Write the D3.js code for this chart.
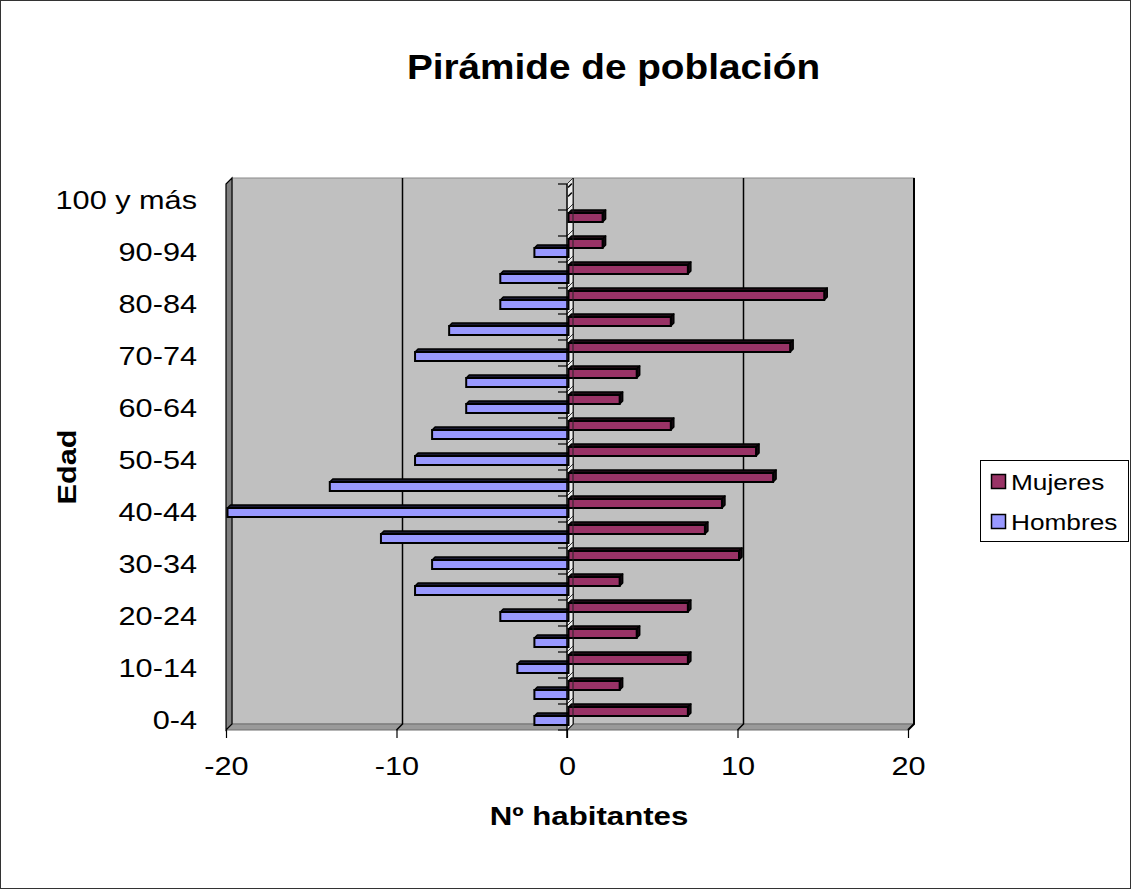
<!DOCTYPE html>
<html>
<head>
<meta charset="utf-8">
<script src="https://cdn.jsdelivr.net/npm/d3@7"></script>
<style>
  html, body { margin: 0; padding: 0; background: #fff; }
  svg { display: block; font-family: "Liberation Sans", Arial, sans-serif; }
</style>
</head>
<body>
<svg id="chart" width="1131" height="890"></svg>
<script>
// ---- data (bottom to top) ----
const categories = ["0-4","5-9","10-14","15-19","20-24","25-29","30-34","35-39","40-44","45-49","50-54","55-59","60-64","65-69","70-74","75-79","80-84","85-89","90-94","95-99","100 y más"];
const mujeres = [7,3,7,4,7,3,10,8,9,12,11,6,3,4,13,6,15,7,2,2,0];
const hombres = [-2,-2,-3,-2,-4,-9,-8,-11,-20,-14,-9,-8,-6,-6,-9,-7,-4,-4,-2,0,0];
const seriesNames = ["Mujeres","Hombres"];
const xTicks = [-20,-10,0,10,20];
const shownLabels = ["0-4","10-14","20-24","30-34","40-44","50-54","60-64","70-74","80-84","90-94","100 y más"];

const colors = { Mujeres: "#993366", Hombres: "#9999FF" };
const topColors = { Mujeres: "#1f0a14", Hombres: "#1a1a33" };

const svg = d3.select("#chart");
const W = 1131, H = 890;
const DX = 6, DY = -6;            // wall depth offset
const BD = 3;                      // bar depth
const front = { left: 226, right: 908, top: 184, bottom: 730 };
const SX = 1.18;                   // horizontal font stretch

// outer frame
svg.append("rect").attr("x",0.5).attr("y",0.5).attr("width",W-1).attr("height",H-2)
  .attr("fill","#fff").attr("stroke","#333").attr("stroke-width",1);

const x = d3.scaleLinear().domain([-20,20]).range([front.left, front.right]);
const y = d3.scaleBand().domain(categories.slice().reverse()).range([front.top, front.bottom]).padding(0);
const yIn = d3.scaleBand().domain(seriesNames).range([3, 21]);

// back wall
svg.append("rect").attr("x", front.left+DX).attr("y", front.top+DY)
  .attr("width", front.right-front.left).attr("height", front.bottom-front.top)
  .attr("fill","#C0C0C0").attr("stroke","#8a8a8a").attr("stroke-width",1);
// floor
svg.append("polygon")
  .attr("points", [[front.left,front.bottom],[front.right,front.bottom],[front.right+DX,front.bottom+DY],[front.left+DX,front.bottom+DY]].map(p=>p.join(",")).join(" "))
  .attr("fill","#9a9a9a").attr("stroke","#6e6e6e").attr("stroke-width",1);
// left wall
svg.append("polygon")
  .attr("points", [[front.left,front.top],[front.left+DX,front.top+DY],[front.left+DX,front.bottom+DY],[front.left,front.bottom]].map(p=>p.join(",")).join(" "))
  .attr("fill","#808080").attr("stroke","#000").attr("stroke-width",1.2);

// gridlines on back wall + floor
const gl = svg.append("g");
xTicks.filter(v => v !== -20).forEach(v => {
  const xb = x(v) + DX;
  gl.append("polyline")
    .attr("points", `${xb},${front.top+DY} ${xb},${front.bottom+DY} ${x(v)},${front.bottom}`)
    .attr("fill","none").attr("stroke", "#000").attr("stroke-width", v===20 ? 2 : 1.5);
});

// zero axis wall strip
const x0 = x(0);
svg.append("polygon")
  .attr("points", `${x0},${front.top} ${x0+DX},${front.top+DY} ${x0+DX},${front.bottom+DY} ${x0},${front.bottom}`)
  .attr("fill","#ececec").attr("stroke","none");
const bounds = d3.range(categories.length+1).map(i => front.top + i*y.bandwidth());
svg.append("g").selectAll("line").data(bounds).join("line")
  .attr("x1", x0).attr("y1", d=>d).attr("x2", x0+DX).attr("y2", d=>d+DY)
  .attr("stroke","#333").attr("stroke-width",1);

// bars
const rows = categories.map((c,i) => ({cat:c, Mujeres: mujeres[i], Hombres: hombres[i]}));
const barsG = svg.append("g");
rows.slice().reverse().forEach(r => {
  ["Hombres","Mujeres"].forEach(s => {
    const v = r[s];
    const yt = y(r.cat) + yIn(s);
    const h = yIn.bandwidth();
    const off = BD/2;
    const xa = Math.min(x(0), x(v)) + off, xb = Math.max(x(0), x(v)) + off;
    const g = barsG.append("g");
    // top face
    g.append("polygon")
      .attr("points", `${xa},${yt} ${xa+BD},${yt-BD} ${xb+BD},${yt-BD} ${xb},${yt}`)
      .attr("fill", topColors[s]).attr("stroke","#000").attr("stroke-width",1.5).attr("stroke-linejoin","round");
    // end face (positive side)
    if (v > 0) {
      g.append("polygon")
        .attr("points", `${xb},${yt} ${xb+BD},${yt-BD} ${xb+BD},${yt+h-BD} ${xb},${yt+h}`)
        .attr("fill", "#140810").attr("stroke","#000").attr("stroke-width",1.5).attr("stroke-linejoin","round");
    }
    // front face
    g.append("rect").attr("x", xa).attr("y", yt).attr("width", xb-xa).attr("height", h)
      .attr("fill", colors[s]).attr("stroke","#000").attr("stroke-width",2);
  });
});

// category axis front line and boundary ticks
svg.append("line").attr("x1",x0).attr("x2",x0).attr("y1",front.top).attr("y2",front.bottom+8)
  .attr("stroke","#000").attr("stroke-width",1.5);
svg.append("line").attr("x1",x0+DX).attr("x2",x0+DX).attr("y1",front.top+DY).attr("y2",front.bottom+DY)
  .attr("stroke","#222").attr("stroke-width",1);
svg.append("g").selectAll("line").data(bounds).join("line")
  .attr("x1", x0-9).attr("x2", x0).attr("y1", d=>d).attr("y2", d=>d)
  .attr("stroke","#000").attr("stroke-width",1.2);

// category labels
const yAxis = svg.append("g").attr("transform","translate(197,0)")
  .call(d3.axisLeft(y).tickValues(shownLabels).tickSize(0).tickPadding(0));
yAxis.select(".domain").remove();
yAxis.selectAll("text").attr("x",0).attr("dy","0.46em")
  .attr("font-size",26).attr("font-family","'Liberation Sans', Arial, sans-serif")
  .attr("fill","#000").attr("transform",`scale(${SX},1)`);

// x axis
const xAxis = svg.append("g").attr("transform",`translate(0,${front.bottom})`)
  .call(d3.axisBottom(x).tickValues(xTicks).tickSize(8).tickPadding(18.5).tickFormat(d3.format("d")));
xAxis.select(".domain").remove();
xAxis.selectAll("line").attr("stroke","#000").attr("stroke-width",1.2);
xAxis.selectAll("text").attr("font-size",26).attr("font-family","'Liberation Sans', Arial, sans-serif")
  .attr("fill","#000").attr("transform",`scale(${SX},1)`)
  .text(d => d < 0 ? "-" + Math.abs(d) : String(d));

// titles
svg.append("text").attr("transform","translate(613.5,78.5) scale(1.107,1)")
  .attr("text-anchor","middle").attr("font-size",35).attr("font-weight","bold").text("Pirámide de población");
svg.append("text").attr("transform","translate(589,825) scale(1.2,1)")
  .attr("text-anchor","middle").attr("font-size",26).attr("font-weight","bold").text("Nº habitantes");
svg.append("text").attr("transform","translate(76,467) rotate(-90) scale(1.18,1)")
  .attr("text-anchor","middle").attr("font-size",26).attr("font-weight","bold").text("Edad");

// legend
const lg = svg.append("g");
lg.append("rect").attr("x",980.5).attr("y",460.5).attr("width",148).attr("height",81)
  .attr("fill","#fff").attr("stroke","#000").attr("stroke-width",1);
["Mujeres","Hombres"].forEach((s,i) => {
  const yy = 474 + i*40;
  lg.append("rect").attr("x",991.5).attr("y",yy+0.5).attr("width",14).attr("height",14)
    .attr("fill",colors[s]).attr("stroke","#000").attr("stroke-width",1.5);
  lg.append("text").attr("transform",`translate(1011,${yy+15.5}) scale(1.22,1)`)
    .attr("font-size",21.5).text(s);
});
</script>
</body>
</html>
